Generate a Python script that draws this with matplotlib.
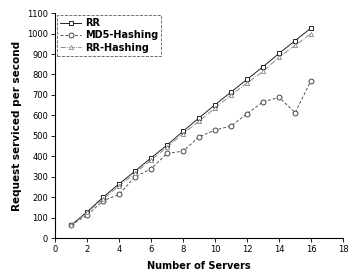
import matplotlib
matplotlib.use("Agg")
import matplotlib.pyplot as plt

servers = list(range(1, 17))
rr = [63, 128, 200, 265, 328, 392, 455, 522, 588, 652, 714, 776, 838, 903, 965, 1027]
md5 = [63, 112, 182, 214, 300, 338, 414, 425, 495, 528, 548, 608, 666, 688, 613, 770]
rr_hash = [62, 125, 192, 255, 318, 382, 445, 510, 572, 636, 700, 758, 815, 885, 942, 1000]

fig = plt.figure(figsize=(3.49, 2.73), dpi=100)
ax = fig.add_axes([0.158, 0.128, 0.825, 0.824])

ax.plot(servers, rr, "-", color="#222222", lw=0.7, marker="s", ms=3.5,
        mfc="white", mec="#222222", mew=0.7, label="RR")
ax.plot(servers, md5, "--", color="#555555", lw=0.7, dashes=(3, 2), marker="o", ms=3.5,
        mfc="white", mec="#444444", mew=0.7, label="MD5-Hashing")
ax.plot(servers, rr_hash, "-.", color="#777777", lw=0.6, marker="^", ms=3,
        mfc="white", mec="#888888", mew=0.6, label="RR-Hashing")

ax.set_xlim(0, 18)
ax.set_ylim(0, 1100)
ax.set_xticks(range(0, 19, 2))
ax.set_yticks(range(0, 1101, 100))
ax.tick_params(labelsize=6, length=3, width=0.6, pad=2)

for s in ["top", "right"]:
    ax.spines[s].set_visible(False)
ax.spines["left"].set_linewidth(0.8)
ax.spines["bottom"].set_linewidth(0.8)
ax.spines["bottom"].set_linestyle((0, (4, 1)))

ax.set_xlabel("Number of Servers", fontsize=7, fontweight="bold", labelpad=5)
ax.set_ylabel("Request serviced per second", fontsize=7.5, fontweight="bold", labelpad=4)

leg = ax.legend(loc="upper left", fontsize=7, frameon=True, fancybox=False,
                borderpad=0.3, handlelength=2.2, handletextpad=0.4, labelspacing=0.25,
                borderaxespad=0.2, edgecolor="#333333")
leg.get_frame().set_linewidth(0.6)
leg.get_frame().set_linestyle("--")
for t in leg.get_texts():
    t.set_fontweight("bold")

plt.savefig("out.png", dpi=100)
plt.close()
